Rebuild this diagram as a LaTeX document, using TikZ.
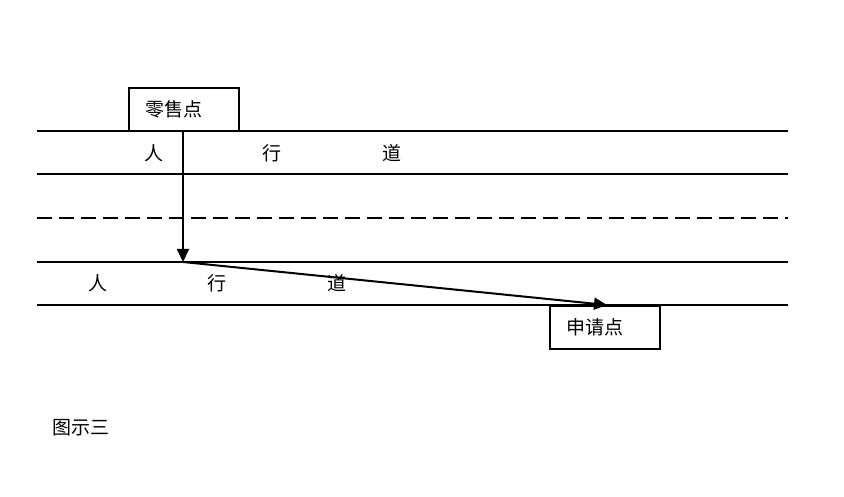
\documentclass[tikz,border=0pt]{standalone}
\usepackage{fontspec}
\setmainfont{Noto Sans CJK SC}
\usetikzlibrary{arrows.meta}
\tikzset{
  road/.style={line width=2pt},
  shop/.style={draw, line width=2pt, text width=78pt, inner xsep=16pt, inner ysep=0pt,
    minimum height=43pt, align=left},
  walk/.style={line width=2pt, -{Triangle[length=13pt,width=12pt]}},
}
\begin{document}
\begin{tikzpicture}[x=1pt, y=1pt, font=\fontsize{19}{22}\selectfont]
    \useasboundingbox[fill=white] (0,0) rectangle (844,497);
    % define road edges
    \coordinate (top_w) at (37,366);
    \coordinate (top_e) at (788,366);
    \coordinate (walk_w) at (37,323);
    \coordinate (walk_e) at (788,323);
    \coordinate (mid_w) at (37,279);
    \coordinate (mid_e) at (788,279);
    \coordinate (low_w) at (37,235);
    \coordinate (low_e) at (788,235);
    \coordinate (bot_w) at (37,192);
    \coordinate (bot_e) at (788,192);
    % shops
    \node[shop] (retail) at (184,387.5) {零售点};
    \node[shop] (apply) at (605,169.5) {申请点};
    % turning points
    \coordinate (drop) at (183,235);
    \coordinate (arrive) at (607,192);
    % draw roads
    \draw[road] (top_w) -- (top_e);
    \draw[road] (walk_w) -- (walk_e);
    \draw[road, dash pattern=on 15pt off 7pt] (mid_w) -- (mid_e);
    \draw[road] (low_w) -- (low_e);
    \draw[road] (bot_w) -- (bot_e);
    % draw route
    \draw[walk] (retail.south -| drop) -- (drop);
    \draw[walk] (drop) -- (arrive);
    % add labels
    \node (ren_a) at (154,344) {人};
    \node (xing_a) at (272,344) {行};
    \node (dao_a) at (392,344) {道};
    \node (ren_b) at (98,214) {人};
    \node (xing_b) at (217,214) {行};
    \node (dao_b) at (337,214) {道};
    \node (caption) at (81,69) {图示三};
\end{tikzpicture}
\end{document}
